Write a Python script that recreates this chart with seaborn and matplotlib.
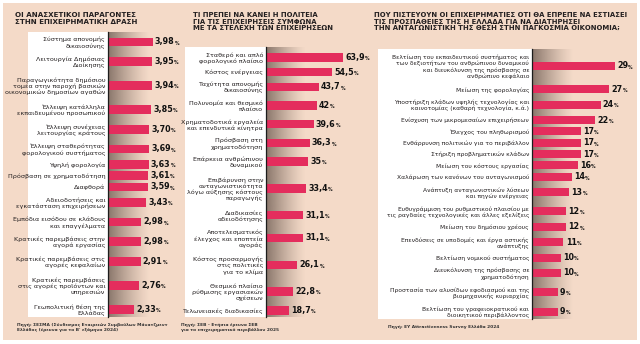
import matplotlib
matplotlib.use("Agg")
import numpy as np
import pandas as pd
import matplotlib.pyplot as plt
from matplotlib.patches import Rectangle
import seaborn as sns

# ---------------- data ----------------
p1_title = "ΟΙ ΑΝΑΣΧΕΤΙΚΟΙ ΠΑΡΑΓΟΝΤΕΣ\nΣΤΗΝ ΕΠΙΧΕΙΡΗΜΑΤΙΚΗ ΔΡΑΣΗ"
p1_labels = [
    "Σύστημα απονομής\nδικαιοσύνης",
    "Λειτουργία Δημόσιας\nΔιοίκησης",
    "Παραγωγικότητα δημόσιου\nτομέα στην παροχή βασικών\nοικονομικών δημοσίων αγαθών",
    "Έλλειψη κατάλληλα\nεκπαιδευμένου προσωπικού",
    "Έλλειψη συνέχειας\nλειτουργίας κράτους",
    "Έλλειψη σταθερότητας\nφορολογικού συστήματος",
    "Υψηλή φορολογία",
    "Πρόσβαση σε χρηματοδότηση",
    "Διαφθορά",
    "Αδειοδοτήσεις και\nεγκατάσταση επιχειρήσεων",
    "Εμπόδια εισόδου σε κλάδους\nκαι επαγγέλματα",
    "Κρατικές παρεμβάσεις στην\nαγορά εργασίας",
    "Κρατικές παρεμβάσεις στις\nαγορές κεφαλαίων",
    "Κρατικές παρεμβάσεις\nστις αγορές προϊόντων και\nυπηρεσιών",
    "Γεωπολιτική θέση της\nΕλλάδας",
]
p1_values = [3.98, 3.95, 3.94, 3.85, 3.70, 3.69, 3.63, 3.61, 3.59, 3.43,
             2.98, 2.98, 2.91, 2.76, 2.33]
p1_source = ("Πηγή: ΣΕΣΜΑ (Σύνδεσμος Εταιρειών Συμβούλων Μάνατζμεντ\n"
             "Ελλάδος (έρευνα για το Β' εξάμηνο 2024)")

p2_title = ("ΤΙ ΠΡΕΠΕΙ ΝΑ ΚΑΝΕΙ Η ΠΟΛΙΤΕΙΑ\nΓΙΑ ΤΙΣ ΕΠΙΧΕΙΡΗΣΕΙΣ ΣΥΜΦΩΝΑ\n"
            "ΜΕ ΤΑ ΣΤΕΛΕΧΗ ΤΩΝ ΕΠΙΧΕΙΡΗΣΕΩΝ")
p2_labels = [
    "Σταθερό και απλό\nφορολογικό πλαίσιο",
    "Κόστος ενέργειας",
    "Ταχύτητα απονομής\nδικαιοσύνης",
    "Πολυνομία και θεσμικό\nπλαίσιο",
    "Χρηματοδοτικά εργαλεία\nκαι επενδυτικά κίνητρα",
    "Πρόσβαση στη\nχρηματοδότηση",
    "Επάρκεια ανθρώπινου\nδυναμικού",
    "Επιβάρυνση στην\nανταγωνιστικότητα\nλόγω αύξησης κόστους\nπαραγωγής",
    "Διαδικασίες\nαδειοδότησης",
    "Αποτελεσματικός\nέλεγχος και εποπτεία\nαγοράς",
    "Κόστος προσαρμογής\nστις πολιτικές\nγια το κλίμα",
    "Θεσμικό πλαίσιο\nρύθμισης εργασιακών\nσχέσεων",
    "Τελωνειακές διαδικασίες",
]
p2_values = [63.9, 54.5, 43.7, 42, 39.6, 36.3, 35, 33.4, 31.1, 31.1, 26.1, 22.8, 18.7]
p2_source = "Πηγή: ΣΕΒ - Ετήσια έρευνα ΣΕΒ\nγια το επιχειρηματικό περιβάλλον 2025"

p3_title = ("ΠΟΥ ΠΙΣΤΕΥΟΥΝ ΟΙ ΕΠΙΧΕΙΡΗΜΑΤΙΕΣ ΟΤΙ ΘΑ ΕΠΡΕΠΕ ΝΑ ΕΣΤΙΑΣΕΙ\n"
            "ΤΙΣ ΠΡΟΣΠΑΘΕΙΕΣ ΤΗΣ Η ΕΛΛΑΔΑ ΓΙΑ ΝΑ ΔΙΑΤΗΡΗΣΕΙ\n"
            "ΤΗΝ ΑΝΤΑΓΩΝΙΣΤΙΚΗ ΤΗΣ ΘΕΣΗ ΣΤΗΝ ΠΑΓΚΟΣΜΙΑ ΟΙΚΟΝΟΜΙΑ;")
p3_labels = [
    "Βελτίωση του εκπαιδευτικού συστήματος και\nτων δεξιοτήτων του ανθρώπινου δυναμικού\n"
    "και διευκόλυνση της πρόσβασης σε\nανθρώπινο κεφάλαιο",
    "Μείωση της φορολογίας",
    "Υποστήριξη κλάδων υψηλής τεχνολογίας και\nκαινοτομίας (καθαρή τεχνολογία, κ.ά.)",
    "Ενίσχυση των μικρομεσαίων επιχειρήσεων",
    "Έλεγχος του πληθωρισμού",
    "Ενθάρρυνση πολιτικών για το περιβάλλον",
    "Στήριξη προβληματικών κλάδων",
    "Μείωση του κόστους εργασίας",
    "Χαλάρωση των κανόνων του ανταγωνισμού",
    "Ανάπτυξη ανταγωνιστικών λύσεων\nκαι πηγών ενέργειας",
    "Ευθυγράμμιση του ρυθμιστικού πλαισίου με\nτις ραγδαίες τεχνολογικές και άλλες εξελίξεις",
    "Μείωση του δημόσιου χρέους",
    "Επενδύσεις σε υποδομές και έργα αστικής\nανάπτυξης",
    "Βελτίωση νομικού συστήματος",
    "Διευκόλυνση της πρόσβασης σε\nχρηματοδότηση",
    "Προστασία των αλυσίδων εφοδιασμού και της\nβιομηχανικής κυριαρχίας",
    "Βελτίωση του γραφειοκρατικού και\nδιοικητικού περιβάλλοντος",
]
p3_values = [29, 27, 24, 22, 17, 17, 17, 16, 14, 13, 12, 12, 11, 10, 10, 9, 9]
p3_source = "Πηγή: EY Attractiveness Survey Ελλάδα 2024"

# ---------------- style ----------------
W, H = 640, 344
BG = "#F4DAC8"
BAR = "#E42D5D"
INK = "#231F20"
NARROW = ["Liberation Sans Narrow", "DejaVu Sans"]

plt.rcParams["font.family"] = ["DejaVu Sans"]

fig = plt.figure(figsize=(W / 100, H / 100), dpi=100)
fig.patch.set_facecolor("white")


def fx(x):
    return x / W


def fy(y):
    return 1 - y / H


def frect(x0, y0, x1, y1):
    return [fx(x0), fy(y1), (x1 - x0) / W, (y1 - y0) / H]


fig.patches.append(Rectangle((fx(3), fy(340)), 634 / W, 337 / H,
                             transform=fig.transFigure, facecolor=BG,
                             edgecolor="none", zorder=-2))


def row_positions(labels, first, a, b):
    n = np.array([lab.count("\n") + 1 for lab in labels], dtype=float)
    h = a + b * n
    return first + np.concatenate([[0.0], np.cumsum((h[:-1] + h[1:]) / 2)])


panels = [
    dict(title=p1_title, labels=p1_labels, values=p1_values, source=p1_source,
         box=(28, 108, 32, 317), right=185, scale=11.2, first=42, a=2.7, b=8.5,
         thick=8.5, lfs=4.6, title_xy=(15, 12), title_w=122, src_xy=(17, 323),
         band=42, fmt=lambda v: f"{v:.2f}".replace(".", ",")),
    dict(title=p2_title, labels=p2_labels, values=p2_values, source=p2_source,
         box=(185, 266, 47, 317), right=370, scale=1.205, first=57.5, a=2.5, b=8.1,
         thick=8.5, lfs=4.6, title_xy=(193, 12), title_w=140, src_xy=(181, 323),
         band=40, fmt=lambda v: f"{v:g}".replace(".", ",")),
    dict(title=p3_title, labels=p3_labels, values=p3_values, source=p3_source,
         box=(378, 532, 49, 319), right=637, scale=2.86, first=66, a=3.35, b=8.0,
         thick=8.0, lfs=4.3, title_xy=(374, 12), title_w=250, src_xy=(388, 325),
         band=42, fmt=lambda v: f"{v:g}"),
]

renderer = fig.canvas.get_renderer()

grad = np.zeros((1, 256, 4))
tt = np.linspace(0, 1, 256)
grad[..., 0] = 70 / 255
grad[..., 1] = 55 / 255
grad[..., 2] = 48 / 255
grad[..., 3] = 0.62 * (1 - tt) ** 1.3

for P in panels:
    bx0, bx1, by0, by1 = P["box"]
    # white label box
    fig.patches.append(Rectangle((fx(bx0), fy(by1)), (bx1 - bx0) / W, (by1 - by0) / H,
                                 transform=fig.transFigure, facecolor="white",
                                 edgecolor="none", zorder=-1))
    # shadow band next to the axis
    gax = fig.add_axes(frect(bx1, by0, bx1 + P["band"], by1))
    gax.imshow(grad, aspect="auto", extent=[0, 1, 0, 1], interpolation="bilinear")
    gax.set_axis_off()
    gax.set_zorder(0.2)

    # bar axes
    ax = fig.add_axes(frect(bx1, by0, P["right"], by1))
    ax.set_zorder(1)
    ax.patch.set_alpha(0)
    pos = row_positions(P["labels"], P["first"], P["a"], P["b"])
    df = pd.DataFrame({"label": P["labels"], "value": P["values"], "pos": pos})
    min_gap = np.min(np.diff(pos))
    sns.barplot(data=df, x="value", y="pos", orient="y", native_scale=True,
                width=P["thick"] / min_gap, color=BAR, saturation=1,
                errorbar=None, linewidth=0, ax=ax)
    ax.set_xlim(0, (P["right"] - bx1) / P["scale"])
    ax.set_ylim(by1, by0)
    ax.set_xticks([])
    ax.set_yticks(pos)
    ax.set_yticklabels(df["label"], fontsize=P["lfs"], color=INK, linespacing=1.15)
    ax.tick_params(axis="y", length=0, pad=2)
    ax.set_xlabel("")
    ax.set_ylabel("")
    for s in ("top", "right", "bottom"):
        ax.spines[s].set_visible(False)
    ax.spines["left"].set_color("#1c1c1c")
    ax.spines["left"].set_linewidth(0.9)

    for v, p in zip(df["value"], df["pos"]):
        t = ax.annotate(P["fmt"](v), xy=(v, p), xytext=(1.6, 0),
                        textcoords="offset points", va="center", ha="left",
                        fontsize=5.8, fontweight="bold", family=NARROW, color="#111")
        ax.annotate("%", xy=(1, 0.08), xycoords=t, va="bottom", ha="left",
                    fontsize=3.3, fontweight="bold", family=NARROW, color="#111")

    # title
    tx, ty = P["title_xy"]
    ttl = fig.text(fx(tx), fy(ty), P["title"], ha="left", va="top", fontsize=6,
                   fontweight="bold", family=NARROW, color=INK, linespacing=1.12)
    w = ttl.get_window_extent(renderer).width
    ttl.set_fontsize(6 * P["title_w"] / w)

    sx, sy = P["src_xy"]
    fig.text(fx(sx), fy(sy), P["source"], ha="left", va="top", fontsize=3.2,
             fontweight="bold", color="#333", linespacing=1.3)

fig.savefig("out.png", dpi=100, facecolor="white")
